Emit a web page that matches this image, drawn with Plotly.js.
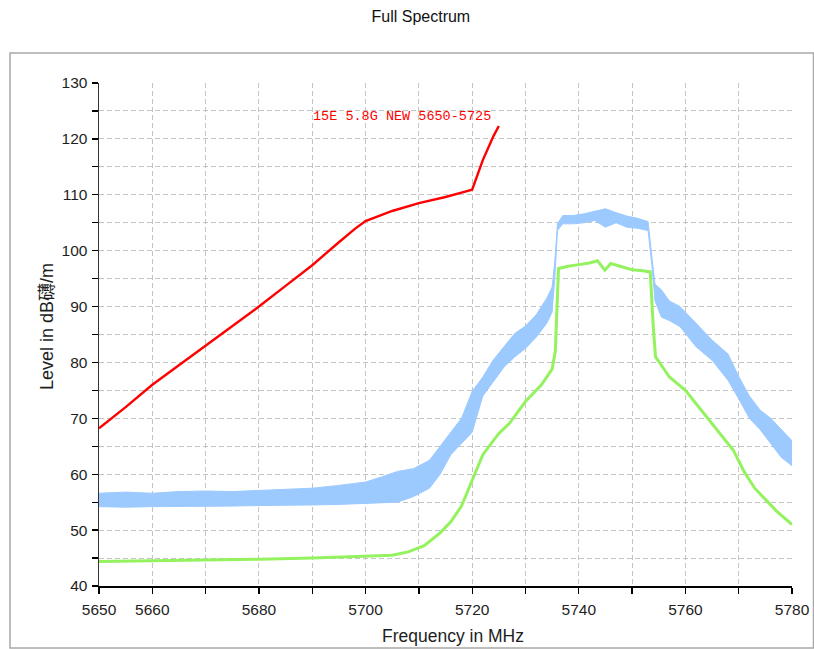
<!DOCTYPE html>
<html>
<head>
<meta charset="utf-8">
<script src="https://cdn.plot.ly/plotly-3.0.1.min.js"></script>
<style>html,body{margin:0;padding:0;background:#fff;}#chart{width:814px;height:649px;}</style>
</head>
<body>
<div id="chart"></div>
<script>
// ---- data ----
const xTickVals = [5650,5660,5670,5680,5690,5700,5710,5720,5730,5740,5750,5760,5770,5780];
const xTickText = ['5650','5660','','5680','','5700','','5720','','5740','','5760','','5780'];
const yTickVals = [40,45,50,55,60,65,70,75,80,85,90,95,100,105,110,115,120,125,130];
const yTickText = ['40','','50','','60','','70','','80','','90','','100','','110','','120','','130'];

// red limit line
const redX = [5650,5655,5660,5665,5670,5675,5680,5685,5690,5695,5698,5700,5702,5705,5710,5715,5718,5720,5722,5724,5725];
const redY = [68.2,72,76,79.5,83.1,86.5,90,93.7,97.4,101.5,103.9,105.3,106,107.1,108.5,109.6,110.4,110.9,116.2,120.5,122.3];

// blue noisy trace: lower and upper envelope
const blueX = [5650,5655,5660,5665,5670,5675,5680,5685,5690,5695,5700,5703,5706,5709,5712,5714,5716,5718,5720,5722,5724,5726,5728,5730,5732,5734,5735,5735.5,5736,5737,5739,5741,5743,5745,5747,5749,5751,5753,5753.7,5754.3,5755.5,5757,5759,5762,5765,5768,5770,5772,5774,5776,5778,5780];
const blueHi = [56.6,56.8,56.6,56.9,57.0,56.9,57.1,57.3,57.5,58.0,58.6,59.5,60.5,61.0,62.5,65.0,67.5,70.0,74.8,77.4,80.5,82.8,85.2,86.5,88.5,91.5,93.5,98.0,104.8,106.3,106.3,106.6,107.0,107.5,106.8,106.2,105.8,105.2,99.0,94.0,93.0,91.0,90.0,87.0,84.0,81.5,77.5,74.0,71.5,70.0,68.0,66.0];
const blueLo = [54.2,54.1,54.2,54.2,54.3,54.3,54.4,54.4,54.5,54.6,54.8,54.8,55.0,56.0,57.5,60.0,63.5,65.5,67.5,74.0,76.5,79.2,81.0,82.5,84.5,87.0,89.0,95.0,103.6,104.8,104.8,105.0,105.4,104.2,105.0,104.2,104.0,103.6,97.5,91.0,88.1,87.5,86.4,82.8,80.4,76.8,73.5,70.0,68.0,65.5,63.0,61.5];

// green trace
const greenX = [5650,5660,5670,5680,5690,5700,5705,5708,5711,5714,5716,5718,5720,5722,5725,5727,5730,5733,5735,5735.6,5736.2,5738,5740,5742,5743.5,5744.9,5746,5748,5750,5752,5753.4,5754,5754.4,5755.5,5757,5760,5763,5766,5769,5771,5773,5775,5777,5780];
const greenY = [44.4,44.5,44.6,44.8,45.0,45.3,45.5,46.1,47.2,49.5,51.5,54.3,59.0,63.5,67.3,69.1,73.0,76.0,78.8,82.0,96.8,97.2,97.5,97.8,98.2,96.5,97.7,97.2,96.6,96.4,96.2,86.0,81.0,79.5,77.4,75.0,71.4,67.9,64.3,60.5,57.5,55.5,53.5,51.0];

const limitLabel = '15E 5.8G NEW 5650-5725';
const chartTitle = 'Full Spectrum';
const xTitle = 'Frequency in MHz';
const yTitle = 'Level in dB礴/m';

const BLUE = '#9ccaff';
const GREEN = '#94f25e';
const RED = '#ff0000';
const SANS = 'Liberation Sans, Arial, "Noto Sans CJK SC", sans-serif';

const traces = [
  {x: blueX, y: blueLo, type: 'scatter', mode: 'lines', line: {color: BLUE, width: 1}, hoverinfo: 'skip', showlegend: false},
  {x: blueX, y: blueHi, type: 'scatter', mode: 'lines', line: {color: BLUE, width: 1}, fill: 'tonexty', fillcolor: BLUE, hoverinfo: 'skip', showlegend: false},
  {x: greenX, y: greenY, type: 'scatter', mode: 'lines', line: {color: GREEN, width: 3}, showlegend: false},
  {x: redX, y: redY, type: 'scatter', mode: 'lines', line: {color: RED, width: 2.4}, showlegend: false}
];

const gridStyle = {showgrid: true, gridcolor: '#c4c4c4', gridwidth: 1, griddash: '5px,3px'};
const tickFont = {family: SANS, size: 15.5, color: '#1e1e1e'};

// pixel helpers for annotations placed relative to the plot area (paper coords)
const PL = 99, PW = 693, PT = 83, PH = 503;
const px2paperX = p => (p - PL) / PW;
const px2paperY = p => (PT + PH - p) / PH;

const layout = {
  width: 814, height: 649,
  margin: {l: 99, r: 22, t: 83, b: 63, pad: 0},
  paper_bgcolor: '#ffffff', plot_bgcolor: '#ffffff',
  showlegend: false,
  title: {text: chartTitle, font: {family: SANS, size: 16, color: '#111'},
          xref: 'container', yref: 'container', x: 0.517, y: 0.974, xanchor: 'center', yanchor: 'middle'},
  xaxis: Object.assign({
    range: [5650, 5780], tickmode: 'array', tickvals: xTickVals, ticktext: xTickText,
    ticks: 'outside', ticklen: 6, tickwidth: 1.3, tickcolor: '#000',
    showline: true, linecolor: '#000', linewidth: 1.5, zeroline: false,
    tickfont: tickFont, ticklabelstandoff: 3
  }, gridStyle),
  yaxis: Object.assign({
    range: [40, 130], tickmode: 'array', tickvals: yTickVals, ticktext: yTickText,
    ticks: 'outside', ticklen: 6, tickwidth: 1.3, tickcolor: '#000',
    showline: true, linecolor: '#333', linewidth: 1.5, zeroline: false,
    tickfont: tickFont, ticklabelstandoff: 1
  }, gridStyle),
  annotations: [
    {x: 5706.9, y: 124, xref: 'x', yref: 'y', text: limitLabel, showarrow: false,
     font: {family: 'Liberation Mono, monospace', size: 13.5, color: RED}, xanchor: 'center', yanchor: 'middle'},
    {x: px2paperX(453), y: px2paperY(636), xref: 'paper', yref: 'paper', text: xTitle, showarrow: false,
     font: {family: SANS, size: 17.5, color: '#1e1e1e'}, xanchor: 'center', yanchor: 'middle'},
    {x: px2paperX(47), y: px2paperY(327), xref: 'paper', yref: 'paper', text: yTitle, showarrow: false, textangle: -90,
     font: {family: SANS, size: 18, color: '#1e1e1e'}, xanchor: 'center', yanchor: 'middle'}
  ],
  shapes: [{
    type: 'rect', xref: 'paper', yref: 'paper', layer: 'below',
    x0: px2paperX(10), x1: px2paperX(813.5), y0: px2paperY(648), y1: px2paperY(53),
    line: {color: '#a8a8a8', width: 1.5}, fillcolor: 'rgba(0,0,0,0)'
  }]
};

Plotly.newPlot('chart', traces, layout, {displayModeBar: false, staticPlot: true});
</script>
</body>
</html>
